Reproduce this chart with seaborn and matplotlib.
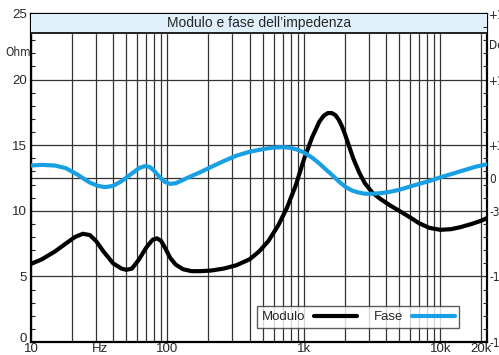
import matplotlib
matplotlib.use("Agg")
import matplotlib.pyplot as plt
import matplotlib.transforms as mtransforms
from matplotlib import font_manager
import pandas as pd
import seaborn as sns
from matplotlib.ticker import FixedLocator, MultipleLocator

# Impedance magnitude (Ohm)
mod_freq = [10, 12, 15, 18, 21, 24, 27, 30, 34, 40, 46, 50, 55, 62, 70, 78, 84, 90,
            97, 105, 115, 130, 150, 175, 210, 260, 320, 400, 470, 550, 650, 750, 870,
            1000, 1150, 1300, 1400, 1500, 1600, 1700, 1800, 1900, 2000, 2150, 2300,
            2550, 2800, 3200, 3700, 4300, 5000, 6000, 7000, 8300, 10000, 12000, 14000,
            17000, 20000, 22000]
mod_vals = [5.95, 6.3, 6.9, 7.5, 8.0, 8.25, 8.15, 7.7, 6.9, 6.0, 5.6, 5.5, 5.6, 6.3, 7.2,
            7.8, 7.9, 7.7, 7.1, 6.4, 5.9, 5.55, 5.4, 5.4, 5.45, 5.6, 5.85, 6.3, 6.9, 7.7,
            8.9, 10.2, 11.9, 13.9, 15.6, 16.8, 17.25, 17.45, 17.45, 17.3, 16.95, 16.45,
            15.85, 14.9, 14.0, 12.9, 12.1, 11.35, 10.85, 10.4, 10.0, 9.5, 9.05, 8.7,
            8.55, 8.6, 8.75, 9.0, 9.25, 9.45]

# Impedance phase, plotted on the Ohm scale (12.5 = 0 deg, 72 deg per 5 Ohm)
fase_freq = [10, 12, 15, 18, 22, 27, 31, 35, 40, 46, 55, 62, 68, 74, 80, 88, 96,
             105, 115, 130, 150, 175, 210, 260, 320, 400, 500, 600, 700, 800, 900,
             1000, 1150, 1300, 1450, 1600, 1800, 2000, 2250, 2500, 2800, 3200, 3700,
             4300, 5000, 6000, 7000, 8500, 10000, 12500, 15000, 18000, 22000]
fase_vals = [13.45, 13.5, 13.45, 13.25, 12.75, 12.15, 11.9, 11.8, 11.9, 12.25, 12.85,
             13.25, 13.4, 13.35, 13.05, 12.55, 12.2, 12.05, 12.1, 12.35, 12.65, 12.95,
             13.35, 13.8, 14.2, 14.5, 14.7, 14.82, 14.85, 14.8, 14.65, 14.45, 14.05,
             13.6, 13.15, 12.75, 12.25, 11.85, 11.55, 11.4, 11.3, 11.3, 11.35, 11.45,
             11.6, 11.85, 12.05, 12.3, 12.55, 12.85, 13.1, 13.35, 13.55]

left_ticks = [0, 5, 10, 15, 20, 25]
right_ticks = [0, 5, 10, 12.5, 15, 20, 25]
right_labels = ["-180", "-108", "-36", "0", "+36", "+108", "+180"]
grid_y = [5, 10, 12.5, 15, 20]
x_ticks = [10, 100, 1000, 10000, 20000]
x_labels = ["10", "100", "1k", "10k", "20k"]

sns.set_style("white")
plt.rcParams["font.family"] = ["Liberation Sans", "DejaVu Sans"]

# look for a narrow face for the small side labels
narrow = None
for f in font_manager.fontManager.ttflist:
    if ("Narrow" in f.name or f.stretch == "condensed" or "Condensed" in f.name) \
            and f.style == "normal" and f.weight in (400, "normal", "regular"):
        narrow = f.fname
        break
if narrow:
    nprops = font_manager.FontProperties(fname=narrow, size=8.5)
else:
    nprops = font_manager.FontProperties(family="Liberation Sans", size=7)

df_mod = pd.DataFrame({"f": mod_freq, "v": mod_vals})
df_fase = pd.DataFrame({"f": fase_freq, "v": fase_vals})

fig = plt.figure(figsize=(4.99, 3.55), dpi=100)
ax = fig.add_axes([0.062, 0.0366, 0.914, 0.924])

sns.lineplot(data=df_mod, x="f", y="v", ax=ax, color="black", lw=3, label="Modulo",
             sort=False, zorder=5)
sns.lineplot(data=df_fase, x="f", y="v", ax=ax, color="#18a0e2", lw=3, label="Fase",
             sort=False, zorder=5)

ax.set_xscale("log")
ax.set_xlim(10, 22000)
ax.set_ylim(0, 25)
ax.set_xlabel("")
ax.set_ylabel("")

# grid
ax.grid(axis="x", which="both", color="#333333", lw=0.9, zorder=1)
ax.grid(axis="y", visible=False)
for g in grid_y:
    ax.axhline(g, color="#333333", lw=0.9, zorder=1)

# title band
band_low = 23.55
ax.axhspan(band_low, 25, color="#dff0fb", zorder=3)
ax.axhline(band_low, color="black", lw=1.2, zorder=4)
ax.text(0.5, (band_low + 25) / 2 / 25, "Modulo e fase dell\u2019impedenza",
        transform=ax.transAxes, ha="center", va="center", fontsize=10, zorder=6)

ax.set_xticks(x_ticks)
ax.set_xticklabels(x_labels)
ax.xaxis.set_minor_locator(FixedLocator([v * 10 ** d for d in range(1, 5) for v in range(2, 10)]))
ax.xaxis.set_minor_formatter(plt.NullFormatter())
ax.tick_params(axis="x", which="both", length=0, pad=1, labelsize=9.5)
trans = mtransforms.blended_transform_factory(ax.transData, ax.transAxes)
ax.text(32, -0.004, "Hz", transform=trans, ha="center", va="top", fontsize=9.5)

ax.set_yticks(left_ticks)
ax.yaxis.set_minor_locator(MultipleLocator(1))
ax.tick_params(axis="y", which="major", direction="in", length=0, pad=3, labelsize=9.5)
ax.tick_params(axis="y", which="minor", direction="in", length=3, width=0.8, left=True)
# lift the "0" label clear of the "10" below it
lbl0 = ax.get_yticklabels()[0]
lbl0.set_transform(lbl0.get_transform() + mtransforms.ScaledTranslation(0, 5 / 100, fig.dpi_scale_trans))

for s in ax.spines.values():
    s.set_color("black")
    s.set_linewidth(1.6)
    s.set_visible(True)

ax2 = ax.twinx()
ax2.set_ylim(0, 25)
ax2.set_yticks(right_ticks)
ax2.set_yticklabels(right_labels)
for t in ax2.get_yticklabels():
    t.set_fontproperties(nprops)
ax2.yaxis.set_minor_locator(MultipleLocator(1))
ax2.tick_params(axis="y", which="major", direction="in", length=0, pad=1.5)
ax2.tick_params(axis="y", which="minor", direction="in", length=3, width=0.8)
for s in ax2.spines.values():
    s.set_visible(False)

fig.text(0.062, 1 - 53 / 355, "Ohm", ha="right", va="center", fontproperties=nprops)
fig.text(0.979, 1 - 45 / 355, "Deg", ha="left", va="center", fontproperties=nprops)

leg = ax.legend(loc="lower left", bbox_to_anchor=(0.496, 0.043), ncol=2,
                markerfirst=False, frameon=True, fancybox=False, fontsize=9.5,
                handlelength=3.2, columnspacing=1.3, handletextpad=0.7,
                borderpad=0.35, borderaxespad=0)
leg.get_frame().set_edgecolor("#333333")
leg.get_frame().set_linewidth(1.0)
leg.set_zorder(7)

fig.savefig("out.png", dpi=100)
